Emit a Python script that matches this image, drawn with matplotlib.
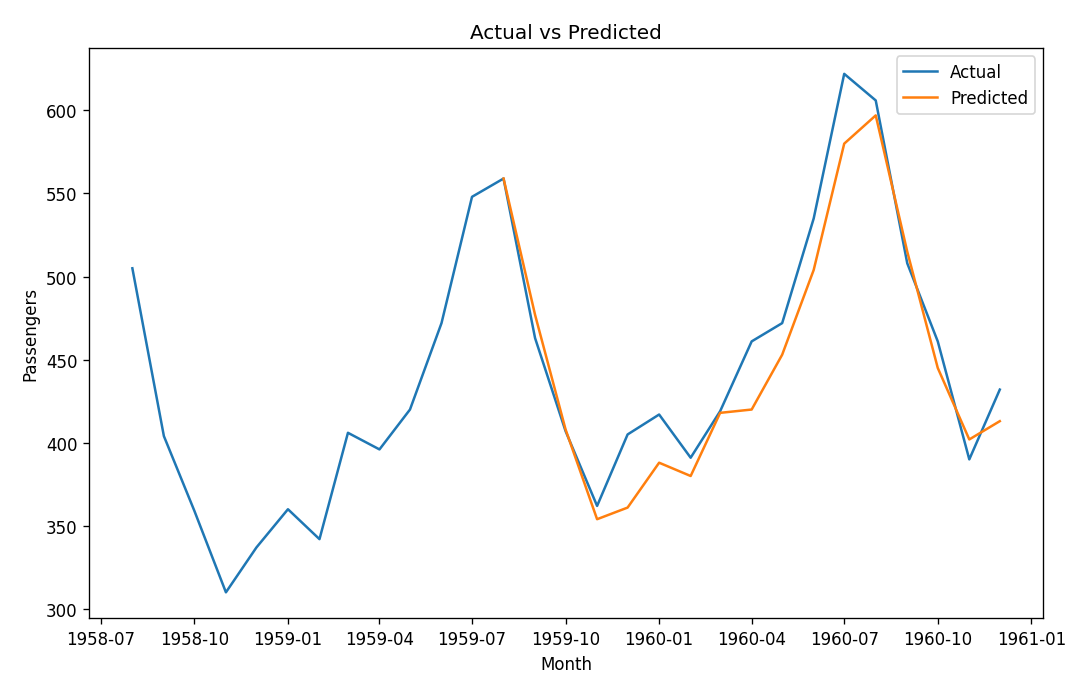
import matplotlib
matplotlib.use("Agg")
import matplotlib.pyplot as plt
import pandas as pd

# actual monthly passengers, 1958-08 .. 1960-12
actual_months = pd.date_range("1958-08-01", "1960-12-01", freq="MS")
actual = [505, 404, 359, 310, 337,
          360, 342, 406, 396, 420, 472, 548, 559, 463, 407, 362, 405,
          417, 391, 419, 461, 472, 535, 622, 606, 508, 461, 390, 432]

# predicted values, 1959-08 .. 1960-12
pred_months = pd.date_range("1959-08-01", "1960-12-01", freq="MS")
predicted = [559, 477, 408, 354, 361,
             388, 380, 418, 420, 453, 504, 580, 597, 515, 445, 402, 413]

fig = plt.figure(figsize=(9.0, 5.658), dpi=120)
ax = fig.add_axes([0.0824, 0.088, 0.8835, 0.84])
ax.plot(actual_months, actual, label='Actual')
ax.plot(pred_months, predicted, label='Predicted')
ax.set_title('Actual vs Predicted')
ax.set_xlabel('Month')
ax.set_ylabel('Passengers')
ax.legend()
fig.savefig("out.png")
